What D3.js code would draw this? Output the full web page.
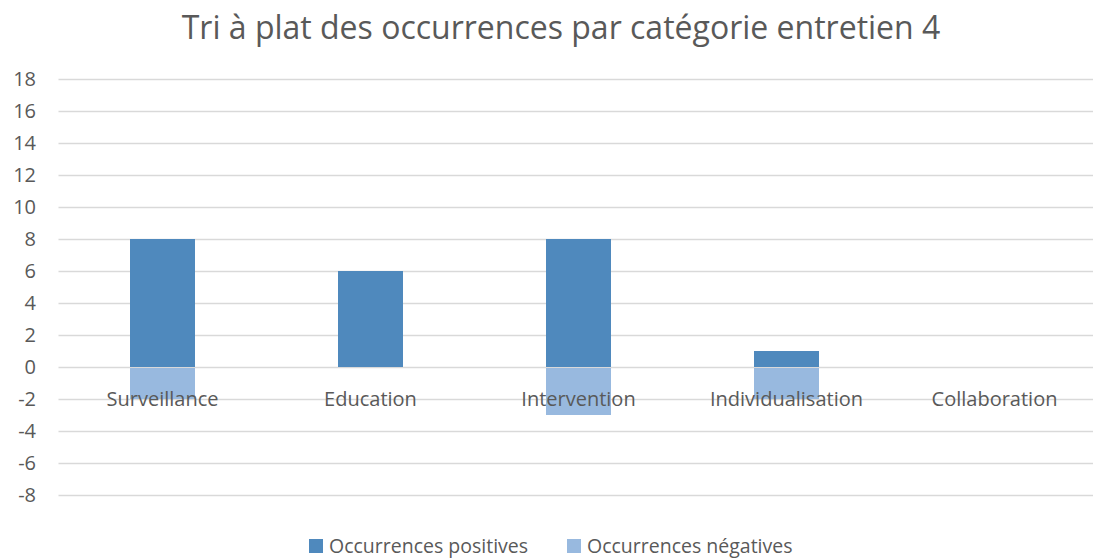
<!DOCTYPE html>
<html>
<head>
<meta charset="utf-8">
<script src="https://cdn.jsdelivr.net/npm/d3@7"></script>
<style>
  body { margin: 0; background: #fff; }
  text { font-family: "Open Sans", "Liberation Sans", sans-serif; fill: #595959; }
</style>
</head>
<body>
<div id="chart"></div>
<script>
///// Data

let categories = ["Surveillance", "Education", "Intervention", "Individualisation", "Collaboration"];
let positives = [8, 6, 8, 1, 0];
let negatives = [-2, 0, -3, -2, 0];
let yTicks = [-8, -6, -4, -2, 0, 2, 4, 6, 8, 10, 12, 14, 16, 18];
let seriesNames = ["Occurrences positives", "Occurrences négatives"];
let seriesColors = ["#4f89bd", "#98b9df"];

///// Layout

let W = 1093, H = 559;
let plot = { left: 58.5, right: 1098.5, top: 79, bottom: 495 };

let svg = d3.select("#chart")
    .append("svg")
    .attr("width", W)
    .attr("height", H);

// scales
let x = d3.scaleBand()
    .domain(categories)
    .range([plot.left, plot.right])
    .paddingInner(0.6875)
    .paddingOuter(0.34375);

let y = d3.scaleLinear()
    .domain([-8, 18])
    .range([plot.bottom, plot.top]);

// title
svg.append("text")
    .attr("x", 561)
    .attr("y", 39)
    .attr("text-anchor", "middle")
    .style("font-size", "32px")
    .text("Tri à plat des occurrences par catégorie entretien 4");

// gridlines
svg.append("g")
    .attr("class", "grid")
    .attr("transform", "translate(" + plot.left + ",0)")
    .call(d3.axisLeft(y).tickValues(yTicks).tickSize(-(plot.right - plot.left)).tickFormat(""))
    .call(g => g.select(".domain").remove())
    .call(g => g.selectAll("line").attr("stroke", "#d9d9d9").attr("stroke-width", 1.3));

// y tick labels (plain hyphen for negatives, like the original)
svg.append("g")
    .attr("transform", "translate(36,0)")
    .call(d3.axisLeft(y).tickValues(yTicks).tickSize(0).tickPadding(0).tickFormat(d => String(d)))
    .call(g => g.select(".domain").remove())
    .call(g => g.selectAll("text")
        .style("font-size", "20px")
        .attr("fill", "#595959")
        .style("font-family", "'Open Sans', sans-serif"));

// bars
let barData = categories.map((c, i) => ({ cat: c, pos: positives[i], neg: negatives[i] }));

svg.append("g").selectAll("rect.pos")
    .data(barData)
    .join("rect")
    .attr("class", "pos")
    .attr("x", d => x(d.cat))
    .attr("width", x.bandwidth())
    .attr("y", d => y(d.pos))
    .attr("height", d => y(0) - y(d.pos))
    .attr("fill", seriesColors[0]);

svg.append("g").selectAll("rect.neg")
    .data(barData)
    .join("rect")
    .attr("class", "neg")
    .attr("x", d => x(d.cat))
    .attr("width", x.bandwidth())
    .attr("y", d => y(0) + 1)
    .attr("height", d => Math.max(0, y(d.neg) - y(0) - 1))
    .attr("fill", seriesColors[1]);

// category labels (sit on the axis, over the bars)
svg.append("g").selectAll("text")
    .data(categories)
    .join("text")
    .attr("x", d => x(d) + x.bandwidth() / 2)
    .attr("y", y(-2) + 7)
    .attr("text-anchor", "middle")
    .style("font-size", "20px")
    .text(d => d);

// legend
let legend = svg.append("g").attr("transform", "translate(309,539)");
let lx = [0, 258];
seriesNames.forEach((name, i) => {
    legend.append("rect")
        .attr("x", lx[i])
        .attr("y", 0)
        .attr("width", 14)
        .attr("height", 14)
        .attr("fill", seriesColors[i]);
    legend.append("text")
        .attr("x", lx[i] + 20)
        .attr("y", 14)
        .style("font-size", "19.5px")
        .text(name);
});
</script>
</body>
</html>
